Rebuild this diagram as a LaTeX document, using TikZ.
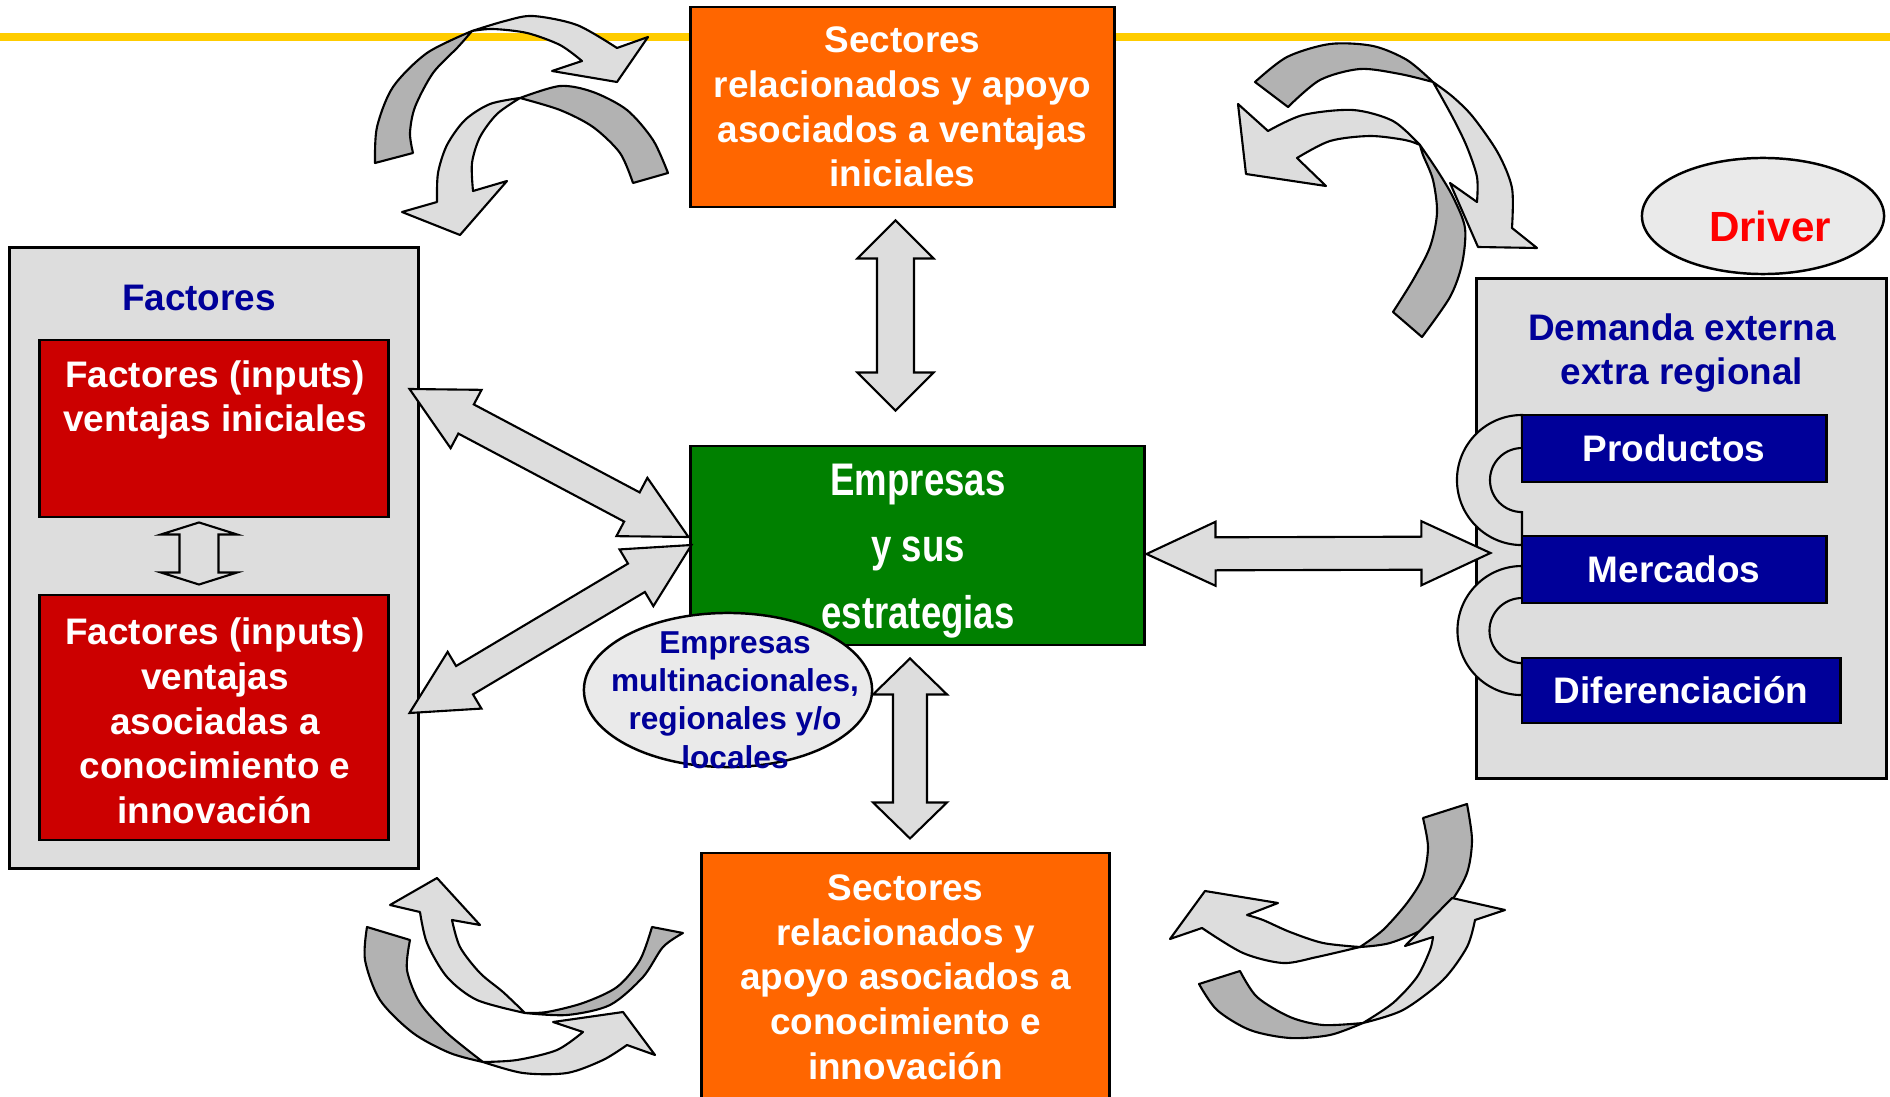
\documentclass[tikz,border=0pt]{standalone}
\usepackage{fontspec}
\setmainfont{Liberation Sans}
\newfontfamily\narrowfont[FakeStretch=0.8]{Liberation Sans}
\usepackage{tikz}
\usetikzlibrary{calc,shapes.geometric}

\definecolor{sectororange}{HTML}{FF6600}
\definecolor{firmgreen}{HTML}{008000}
\definecolor{factorred}{HTML}{CC0000}
\definecolor{deepnavy}{HTML}{000099}
\definecolor{panelgray}{HTML}{DDDDDD}
\definecolor{arrowgray}{HTML}{DDDDDD}
\definecolor{shadegray}{HTML}{B2B2B2}
\definecolor{ovalgray}{HTML}{EAEAEA}
\definecolor{ruleyellow}{HTML}{FFCC00}

% block double arrow: #1 tip, #2 tip, #3 shaft half width, #4 head half width, #5 head length
\newcommand\dblarrow[5]{%
  \draw[fatarrow] (#1)
    -- ($(#1)!#5!(#2)!#4!90:(#2)$)
    -- ($(#1)!#5!(#2)!#3!90:(#2)$)
    -- ($(#2)!#5!(#1)!#3!270:(#1)$)
    -- ($(#2)!#5!(#1)!#4!270:(#1)$)
    -- (#2)
    -- ($(#2)!#5!(#1)!#4!90:(#1)$)
    -- ($(#2)!#5!(#1)!#3!90:(#1)$)
    -- ($(#1)!#5!(#2)!#3!270:(#2)$)
    -- ($(#1)!#5!(#2)!#4!270:(#2)$)
    -- cycle;}

\begin{document}
\begin{tikzpicture}[
    x=0.01cm, y=-0.01cm,
    every node/.style={inner sep=0pt, align=center, font=\fontsize{10.5}{12.7}\selectfont\bfseries},
    box/.style={draw, line width=0.8pt},
    oval/.style={ellipse, draw, line width=0.7pt, fill=ovalgray},
    fatarrow/.style={draw, line width=0.6pt, fill=arrowgray, line join=miter},
    bandlight/.style={draw, line width=0.6pt, fill=arrowgray, line join=round},
    banddark/.style={draw, line width=0.6pt, fill=shadegray, line join=round},
    link/.style={draw, line width=0.6pt, fill=panelgray}
  ]
    \useasboundingbox (0,0) rectangle (1890,1097);
    \draw[ruleyellow, line width=0.08cm] (0,37) -- (1890,37);

    % curved arrows, top left
    \draw[banddark] plot[smooth] coordinates {(375,163) (377,127) (393,87) (427,53) (472,31)}
      -- plot[smooth] coordinates {(472,31) (458,47) (433,73) (415,107) (410,133) (413,153)} -- cycle;
    \draw[bandlight] plot[smooth] coordinates {(472,31) (505,21) (533,16) (577,25) (617,48)}
      -- (648,37) -- (617,82) -- (552,71) -- (582,61)
      -- plot[smooth] coordinates {(582,61) (560,45) (527,33) (493,29) (472,31)} -- cycle;
    \draw[banddark] plot[smooth] coordinates {(668,173) (653,140) (627,110) (593,92) (560,86) (520,98)}
      -- plot[smooth] coordinates {(520,98) (560,110) (593,127) (620,153) (633,183)} -- cycle;
    \draw[bandlight] plot[smooth] coordinates {(520,98) (490,104) (465,120) (447,145) (438,173) (437,202)}
      -- (402,212) -- (460,235) -- (507,181) -- (473,191)
      -- plot[smooth] coordinates {(473,191) (472,163) (480,137) (497,114) (520,98)} -- cycle;

    % curved arrows, top right
    \draw[bandlight] plot[smooth] coordinates {(1420,145) (1393,121) (1353,110) (1303,115) (1268,131)}
      -- (1238,104) -- (1246,174) -- (1326,186) -- (1297,158)
      -- plot[smooth] coordinates {(1297,158) (1330,141) (1370,136) (1405,140) (1420,145)} -- cycle;
    \draw[banddark] plot[smooth] coordinates {(1420,145) (1437,170) (1453,197) (1465,228) (1462,264) (1450,297) (1422,337)}
      -- plot[smooth] coordinates {(1393,312) (1413,280) (1430,247) (1437,213) (1433,180) (1423,155) (1420,145)} -- cycle;
    \draw[banddark] plot[smooth] coordinates {(1255,82) (1287,57) (1330,44) (1373,46) (1407,60) (1433,82)}
      -- plot[smooth] coordinates {(1433,82) (1400,74) (1360,69) (1320,80) (1288,107)} -- cycle;
    \draw[bandlight] plot[smooth] coordinates {(1433,82) (1453,97) (1473,117) (1498,153) (1512,188) (1512,228)}
      -- (1537,248) -- (1478,247) -- (1450,183) -- (1477,202)
      -- plot[smooth] coordinates {(1477,202) (1477,177) (1467,147) (1453,118) (1433,82)} -- cycle;

    \node[box, fill=sectororange, text=white, minimum width=4.23cm, minimum height=2cm] (suptop) at (902.5,107)
      {Sectores\\relacionados y apoyo\\asociados a ventajas\\iniciales};

    \node[oval, minimum width=2.42cm, minimum height=1.16cm] (drv) at (1763,216) {};
    \node[text=red, font=\fontsize{12}{14}\selectfont\bfseries] (drvtxt) at (1770,226) {Driver};

    % factores
    \node[box, fill=panelgray, minimum width=4.08cm, minimum height=6.2cm] (fact) at (214,558) {};
    \node[text=deepnavy] (facttitle) at (199,298) {Factores};
    \node[box, fill=factorred, minimum width=3.48cm, minimum height=1.77cm] (fini) at (214,428.5) {};
    \node[text=white] (finitxt) at (215,400) {Factores (inputs)\\ventajas iniciales};
    \node[box, fill=factorred, minimum width=3.48cm, minimum height=2.45cm] (fcon) at (214,717.5) {};
    \node[text=white] (fcontxt) at (215,721) {Factores (inputs)\\ventajas\\asociadas a\\conocimiento e\\innovación};
    \coordinate (sa1) at ($(fini.south)+(-15,4)$);
    \coordinate (sa2) at ($(fcon.north)+(-15,-9)$);
    \dblarrow{sa1}{sa2}{0.195cm}{0.38cm}{0.12cm}

    % demanda externa
    \node[box, fill=panelgray, minimum width=4.09cm, minimum height=4.99cm] (dem) at (1681.5,528.5) {};
    \node[text=deepnavy] (demtitle) at (1682,353) {Demanda externa\\extra regional};
    \draw[link] (1522,415) arc[start angle=90, end angle=270, radius=0.65cm]
      -- ++(0,-33) arc[start angle=270, end angle=90, radius=0.32cm] -- cycle;
    \draw[link] (1522,566) arc[start angle=90, end angle=270, radius=0.645cm]
      -- ++(0,-32) arc[start angle=270, end angle=90, radius=0.325cm] -- cycle;
    \node[box, fill=deepnavy, text=white, minimum width=3.04cm, minimum height=0.67cm] (prod) at (1674,448.5) {Productos};
    \node[box, fill=deepnavy, text=white, minimum width=3.04cm, minimum height=0.67cm] (merc) at (1674,569.5) {Mercados};
    \node[box, fill=deepnavy, text=white, minimum width=3.18cm, minimum height=0.65cm] (dif) at (1681,690.5) {Diferenciación};

    % empresas
    \node[box, fill=firmgreen, minimum width=4.53cm, minimum height=1.99cm] (emp) at (917.5,545.5) {};
    \node[text=white, font=\narrowfont\fontsize{13}{19}\selectfont\bfseries] (emptxt) at (918,551) {Empresas\\y sus\\estrategias};

    \coordinate (v1a) at ($(suptop.south)+(-7,12)$);
    \coordinate (v1b) at ($(emp.north)+(-22,-34)$);
    \dblarrow{v1a}{v1b}{0.185cm}{0.38cm}{0.38cm}
    \coordinate (v2a) at ($(emp.south)+(-7.5,12)$);
    \coordinate (v2b) at ($(emp.south)+(-7.5,192)$);
    \dblarrow{v2a}{v2b}{0.17cm}{0.37cm}{0.36cm}
    \coordinate (h1a) at ($(emp.east)+(1,8.5)$);
    \coordinate (h1b) at ($(dem.west)+(15,24.5)$);
    \dblarrow{h1a}{h1b}{0.165cm}{0.32cm}{0.69cm}
    \coordinate (d1a) at ($(fact.east)+(-10,-169)$);
    \coordinate (d1b) at ($(emp.west)+(-1,-8.5)$);
    \dblarrow{d1a}{d1b}{0.165cm}{0.33cm}{0.64cm}
    \coordinate (d2a) at ($(emp.west)+(2,-0.5)$);
    \coordinate (d2b) at ($(fact.east)+(-10,155)$);
    \dblarrow{d2a}{d2b}{0.165cm}{0.33cm}{0.64cm}

    \node[oval, minimum width=2.88cm, minimum height=1.54cm] (mnc) at (728,690) {};
    \node[text=deepnavy, font=\fontsize{9}{10.9}\selectfont\bfseries] (mnctxt) at (735,700)
      {Empresas\\multinacionales,\\regionales y/o\\locales};

    % curved arrows, bottom left
    \draw[banddark] plot[smooth] coordinates {(525,1013) (567,1015) (610,1005) (643,977) (663,947) (683,933)}
      -- plot[smooth] coordinates {(652,927) (640,960) (617,987) (583,1003) (547,1012) (525,1013)} -- cycle;
    \draw[bandlight] plot[smooth] coordinates {(525,1013) (477,1000) (447,977) (427,943) (420,912)}
      -- (390,905) -- (437,878) -- (480,925) -- (452,920)
      -- plot[smooth] coordinates {(452,920) (460,947) (480,973) (503,992) (525,1013)} -- cycle;
    \draw[banddark] plot[smooth] coordinates {(367,927) (365,960) (380,1000) (413,1033) (450,1053) (483,1062)}
      -- plot[smooth] coordinates {(483,1062) (447,1033) (420,1003) (407,970) (410,940)} -- cycle;
    \draw[bandlight] plot[smooth] coordinates {(483,1062) (523,1073) (567,1073) (603,1060) (627,1045)}
      -- (655,1055) -- (623,1012) -- (553,1022) -- (583,1032)
      -- plot[smooth] coordinates {(583,1032) (557,1050) (517,1060) (483,1062)} -- cycle;

    % curved arrows, bottom right
    \draw[banddark] plot[smooth] coordinates {(1467,804) (1472,840) (1467,873) (1450,903) (1427,927) (1390,943) (1360,947)}
      -- plot[smooth] coordinates {(1360,947) (1383,930) (1407,903) (1423,877) (1428,847) (1423,818)} -- cycle;
    \draw[bandlight] plot[smooth] coordinates {(1360,947) (1317,957) (1283,963) (1243,953) (1202,928)}
      -- (1170,939) -- (1205,891) -- (1278,903) -- (1247,915)
      -- plot[smooth] coordinates {(1247,915) (1263,920) (1290,932) (1323,943) (1360,947)} -- cycle;
    \draw[banddark] plot[smooth] coordinates {(1199,984) (1217,1010) (1250,1030) (1290,1038) (1330,1035) (1363,1023)}
      -- plot[smooth] coordinates {(1363,1023) (1323,1025) (1290,1017) (1257,997) (1240,971)} -- cycle;
    \draw[bandlight] plot[smooth] coordinates {(1363,1023) (1403,1010) (1443,980) (1467,947) (1475,920)}
      -- (1505,910) -- (1452,898) -- (1405,946) -- (1433,937)
      -- plot[smooth] coordinates {(1433,937) (1430,950) (1417,977) (1393,1003) (1363,1023)} -- cycle;

    \node[box, fill=sectororange, text=white, minimum width=4.07cm, minimum height=2.48cm] (supbot) at (905.5,977)
      {Sectores\\relacionados y\\apoyo asociados a\\conocimiento e\\innovación};
\end{tikzpicture}
\end{document}
